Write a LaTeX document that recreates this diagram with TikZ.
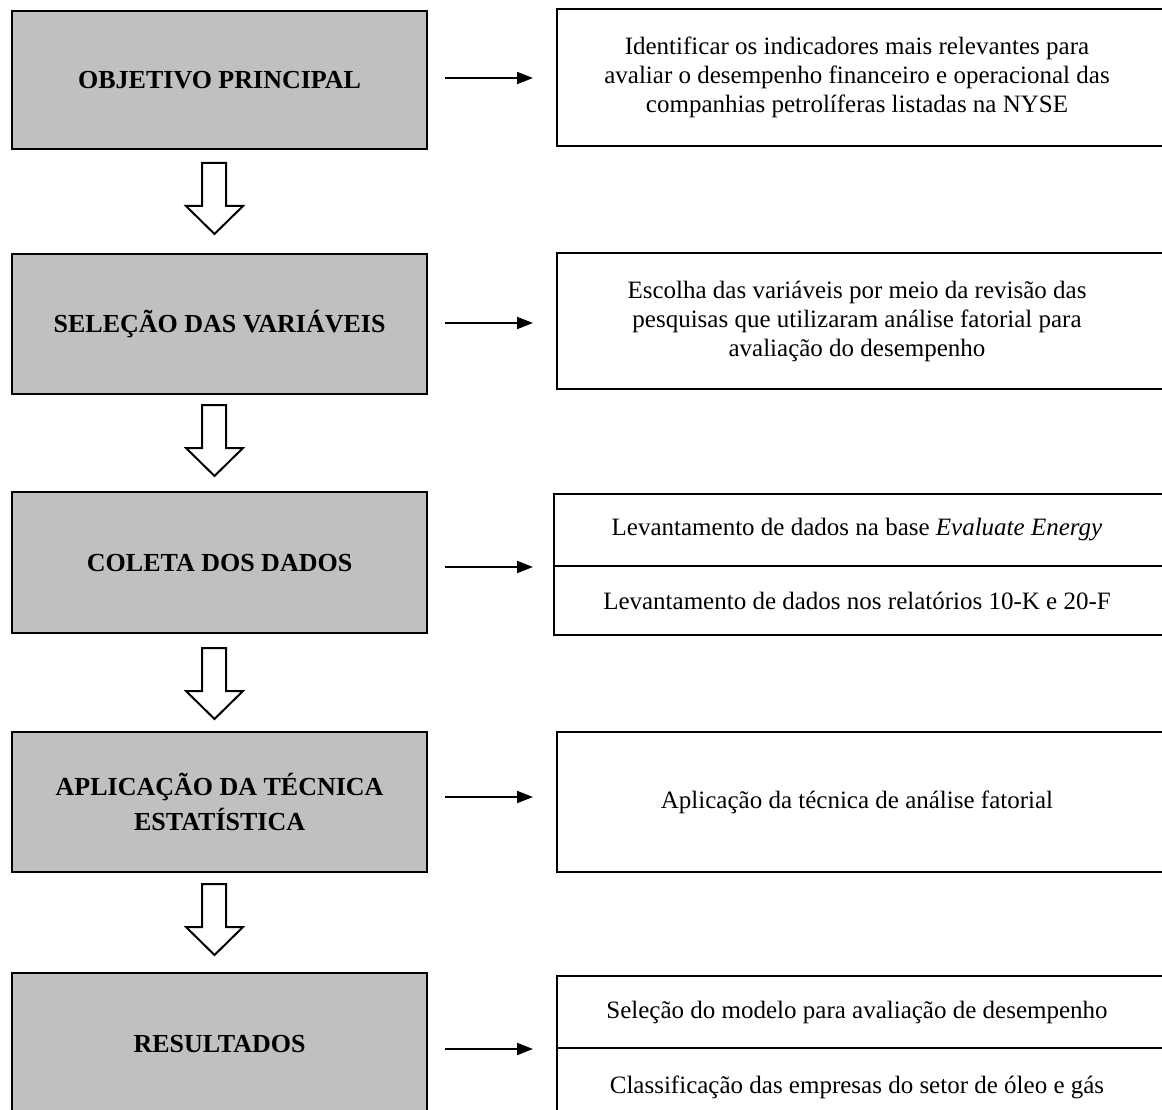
\documentclass[tikz,border=0pt]{standalone}
\usepackage{fontspec}
\setmainfont{Liberation Serif}
\usetikzlibrary{arrows.meta}
\definecolor{boxgray}{HTML}{C0C0C0}
\tikzset{
  graybox/.style={draw, line width=2.2pt, fill=boxgray, minimum width=415pt, minimum height=#1, anchor=north west, inner sep=0pt, align=center, font=\fontsize{26}{35}\selectfont\bfseries},
  graybox/.default=139pt,
  rtext/.style={minimum width=600pt, inner sep=0pt, align=center, font=\fontsize{25}{29}\selectfont},
  rframe/.style={draw, line width=2pt},
  linkarrow/.style={line width=2pt, -{Triangle[length=16pt,width=12pt]}},
  blockarrow/.style={draw, line width=2pt, fill=white, line join=miter}
}
\begin{document}
\begin{tikzpicture}[x=1pt,y=-1pt]
\clip (0,0) rectangle (1162,1110);
\fill[white] (0,0) rectangle (1162,1110);

% left gray boxes
\node[graybox=138pt] (g1) at (11,10) {OBJETIVO PRINCIPAL};
\node[graybox=140pt] (g2) at (11,253) {SELEÇÃO DAS VARIÁVEIS};
\node[graybox=141pt] (g3) at (11,491) {COLETA DOS DADOS};
\node[graybox=140pt] (g4) at (11,731) {APLICAÇÃO DA TÉCNICA\\ESTATÍSTICA};
\node[graybox=142pt] (g5) at (11,972) {RESULTADOS};

% right boxes
\node[rtext, minimum height=137pt] (r1) at (857,77.5) {Identificar os indicadores mais relevantes para\\avaliar o desempenho financeiro e operacional das\\companhias petrolíferas listadas na NYSE};
\draw[rframe] (r1.north west) rectangle ([xshift=30pt]r1.south east);

\node[rtext, minimum height=136pt] (r2) at (857,321) {Escolha das variáveis por meio da revisão das\\pesquisas que utilizaram análise fatorial para\\avaliação do desempenho};
\draw[rframe] (r2.north west) rectangle ([xshift=30pt]r2.south east);

\node[rtext, minimum width=606pt, minimum height=141pt] (r3) at (857,564.5) {};
\node[rtext, minimum height=72pt] (r3a) at (857,530) {Levantamento de dados na base \textit{Evaluate Energy}};
\node[rtext, minimum height=69pt] (r3b) at (857,600.5) {Levantamento de dados nos relatórios 10-K e 20-F};
\draw[rframe] (r3.north west) rectangle ([xshift=30pt]r3.south east);
\draw[rframe] (r3.west |- r3a.south) -- ([xshift=30pt]r3.east |- r3a.south);

\node[rtext, minimum height=140pt] (r4) at (857,802) {Aplicação da técnica de análise fatorial};
\draw[rframe] (r4.north west) rectangle ([xshift=30pt]r4.south east);

\node[rtext, minimum height=150pt] (r5) at (857,1051) {};
\node[rtext, minimum height=72pt] (r5a) at (857,1012) {Seleção do modelo para avaliação de desempenho};
\node[rtext, minimum height=78pt] (r5b) at (857,1087) {Classificação das empresas do setor de óleo e gás};
\draw[rframe] (r5.north west) rectangle ([xshift=30pt]r5.south east);
\draw[rframe] (r5.west |- r5a.south) -- ([xshift=30pt]r5.east |- r5a.south);

% horizontal arrows
\coordinate (e1) at (533,78);
\coordinate (e2) at (533,323);
\coordinate (e3) at (533,567);
\coordinate (e4) at (533,797);
\coordinate (e5) at (533,1049);
\draw[linkarrow] ([xshift=17pt]g1.east |- e1) -- (e1);
\draw[linkarrow] ([xshift=17pt]g2.east |- e2) -- (e2);
\draw[linkarrow] ([xshift=17pt]g3.east |- e3) -- (e3);
\draw[linkarrow] ([xshift=17pt]g4.east |- e4) -- (e4);
\draw[linkarrow] ([xshift=17pt]g5.east |- e5) -- (e5);

% block arrows
\foreach \y in {163,405,648,884}{
  \draw[blockarrow] (202,\y) -- (226,\y) -- (226,\y+43) -- (243,\y+43)
     -- (214.5,\y+71) -- (186,\y+43) -- (202,\y+43) -- cycle;
}
\end{tikzpicture}
\end{document}
